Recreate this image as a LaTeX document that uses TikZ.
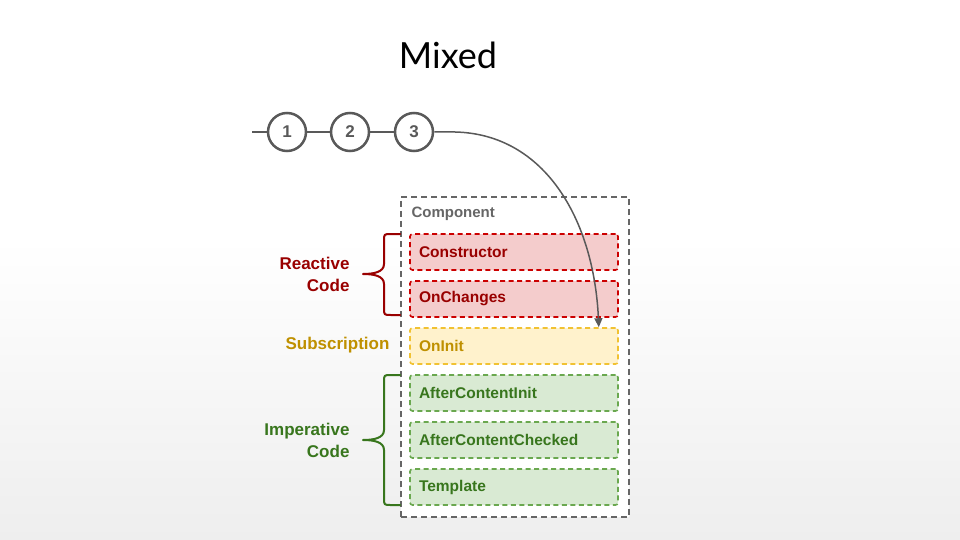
\documentclass[tikz,border=0pt]{standalone}
\usepackage{fontspec}
\setmainfont{Liberation Sans}
\newfontfamily\titlefont{Lato}
\usetikzlibrary{calc,arrows.meta}

\definecolor{redfill}{HTML}{F4CCCC}
\definecolor{redline}{HTML}{CC0000}
\definecolor{redtext}{HTML}{990000}
\definecolor{yelfill}{HTML}{FFF2CC}
\definecolor{yelline}{HTML}{F1C232}
\definecolor{yeltext}{HTML}{BF9000}
\definecolor{grnfill}{HTML}{D9EAD3}
\definecolor{grnline}{HTML}{6AA84F}
\definecolor{grntext}{HTML}{38761D}
\definecolor{ink}{HTML}{595959}
\definecolor{boxgray}{HTML}{666666}
\definecolor{floor}{HTML}{EEEEEE}

\tikzset{
  stage/.style={circle, draw=ink, line width=2.5pt, fill=white, minimum size=38pt,
    inner sep=0pt, text=ink, font=\bfseries\fontsize{17}{19}\selectfont},
  wire/.style={draw=ink, line width=1.5pt},
  hook/.style={rounded corners=2.5pt, line width=1.6pt, dash pattern=on 5pt off 3.5pt,
    minimum height=36pt, text width=190pt, inner xsep=9pt, inner ysep=0pt, align=left,
    font=\bfseries\fontsize{15.5}{17}\selectfont},
  reactive/.style={hook, draw=redline, fill=redfill, text=redtext},
  subscr/.style={hook, draw=yelline, fill=yelfill, text=yeltext},
  imperative/.style={hook, draw=grnline, fill=grnfill, text=grntext},
  group/.style={font=\bfseries\fontsize{17}{22}\selectfont, align=right, anchor=east},
  brace/.style={line width=2pt, line join=round, line cap=round}
}

\begin{document}
\begin{tikzpicture}[x=1pt, y=-1pt]
  % page and soft floor gradient
  \useasboundingbox (0,0) rectangle (960,540);
  \fill[white] (0,0) rectangle (960,240);
  \shade[top color=white, bottom color=floor] (0,239) rectangle (960,540);

  % title
  \node (title) at (448,55) {\titlefont\fontsize{36}{40}\selectfont Mixed};

  % change-detection ticks
  \coordinate (start) at (252,132);
  \node[stage] (s1) at (287,132) {1};
  \node[stage] (s2) at (350,132) {2};
  \node[stage] (s3) at (414,132) {3};
  \draw[wire] (start) -- (s1);
  \draw[wire] (s1) -- (s2);
  \draw[wire] (s2) -- (s3);

  % component frame
  \node[draw=boxgray, fill=white, line width=2pt, dash pattern=on 6pt off 4pt,
        minimum width=228pt, minimum height=320pt, inner sep=0pt, anchor=north west]
        (comp) at (400,196) {};
  \node[anchor=west, text=boxgray, font=\bfseries\fontsize{15}{17}\selectfont]
        (complabel) at (408,214) {Component};

  % lifecycle hooks
  \node[reactive]   (ctor)    at (514,252) {Constructor};
  \node[reactive]   (changes) at (514,299) {OnChanges};
  \node[subscr]     (init)    at (514,346) {OnInit};
  \node[imperative] (aci)     at (514,393) {AfterContentInit};
  \node[imperative] (acc)     at (514,440) {AfterContentChecked};
  \node[imperative] (tpl)     at (514,487) {Template};

  % flow from tick 3 into OnInit
  \coordinate (hit) at ($(init.north east)+(-20,0)$);
  \draw[wire, -{Triangle[length=9pt, width=8pt]}]
    (s3) -- (455,132) .. controls (545,134) and (594,220) .. (hit);

  % brace for reactive code
  \draw[brace, redtext] (400,234) -- (391,234) .. controls (384,234) .. (384,241)
    -- (384,264) .. controls (384,272) and (374,274) .. (363,274)
    .. controls (374,274) and (384,276) .. (384,284) -- (384,308)
    .. controls (384,315) .. (391,315) -- (400,315);
  \node[group, text=redtext] (reactlbl) at (353,274) {Reactive\\Code};

  % subscription label
  \node[group, text=yeltext] (sublbl) at (393,345) {Subscription};

  % brace for imperative code
  \draw[brace, grntext] (400,375) -- (391,375) .. controls (384,375) .. (384,382)
    -- (384,430) .. controls (384,438) and (374,440) .. (363,440)
    .. controls (374,440) and (384,442) .. (384,450) -- (384,498)
    .. controls (384,505) .. (391,505) -- (400,505);
  \node[group, text=grntext] (implbl) at (353,440) {Imperative\\Code};
\end{tikzpicture}
\end{document}
